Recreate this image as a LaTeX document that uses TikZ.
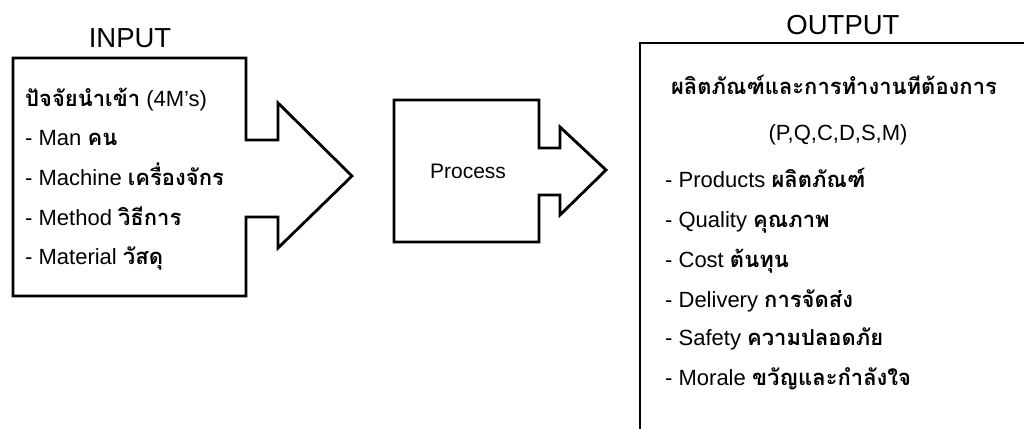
\documentclass[tikz,border=0pt]{standalone}
\usepackage{fontspec}
\setmainfont{Liberation Sans}
\newfontfamily\thaifont[Script=Thai]{Loma}
\newcommand\thw[1]{{\thaifont\bfseries #1}}
\begin{document}
\begin{tikzpicture}[x=1pt,y=-1pt,
  outline/.style={draw=black, line width=2.8pt, line join=miter, fill=white},
  heading/.style={font=\fontsize{27.5}{30}\selectfont, inner sep=0pt},
  item/.style={font=\fontsize{22}{25}\selectfont, anchor=base west, inner sep=0pt},
  centred/.style={font=\fontsize{22}{25}\selectfont, anchor=base, inner sep=0pt},
  ]
\useasboundingbox (0,0) rectangle (1024,428);
\fill[white] (0,0) rectangle (1024,428);
\begin{scope}
\clip (0,0) rectangle (1024,428);
% input block arrow
\draw[outline] (13,58) -- (246,58) -- (246,140) -- (278,140) -- (278,103)
  -- (352,176) -- (278,248) -- (278,217) -- (246,217) -- (246,296)
  -- (13,296) -- cycle;
% process block arrow
\draw[outline] (394,100) -- (539,100) -- (539,148) -- (560,148) -- (560,127)
  -- (606,170) -- (560,215) -- (560,195) -- (539,195) -- (539,242)
  -- (394,242) -- cycle;
% output box, running off the right and bottom edges
\draw[outline, fill=none] (1040,43) -- (640,43) -- (640,440);
\end{scope}

% headings
\node[heading] (inhead) at (130,38) {INPUT};
\node[heading] (outhead) at (843,25) {OUTPUT};
\node[font=\fontsize{21}{24}\selectfont, inner sep=0pt] (proc) at (468,171) {Process};

% input items
\node[item] (in0) at (25,106) {\thw{ปัจจัยนำเข้า} (4M's)};
\node[item] (in1) at (25,145) {- Man \thw{คน}};
\node[item] (in2) at (25,185) {- Machine \thw{เครื่องจักร}};
\node[item] (in3) at (25,225) {- Method \thw{วิธีการ}};
\node[item] (in4) at (25,264) {- Material \thw{วัสดุ}};

% output items
\node[centred] (out0) at (834,94) {\thw{ผลิตภัณฑ์และการทำงานทีต้องการ}};
\node[centred] (out1) at (838,140) {(P,Q,C,D,S,M)};
\node[item] (out2) at (665,187) {- Products \thw{ผลิตภัณฑ์}};
\node[item] (out3) at (665,227) {- Quality \thw{คุณภาพ}};
\node[item] (out4) at (665,267) {- Cost \thw{ต้นทุน}};
\node[item] (out5) at (665,307) {- Delivery \thw{การจัดส่ง}};
\node[item] (out6) at (665,345) {- Safety \thw{ความปลอดภัย}};
\node[item] (out7) at (665,385) {- Morale \thw{ขวัญและกำลังใจ}};
\end{tikzpicture}
\end{document}
